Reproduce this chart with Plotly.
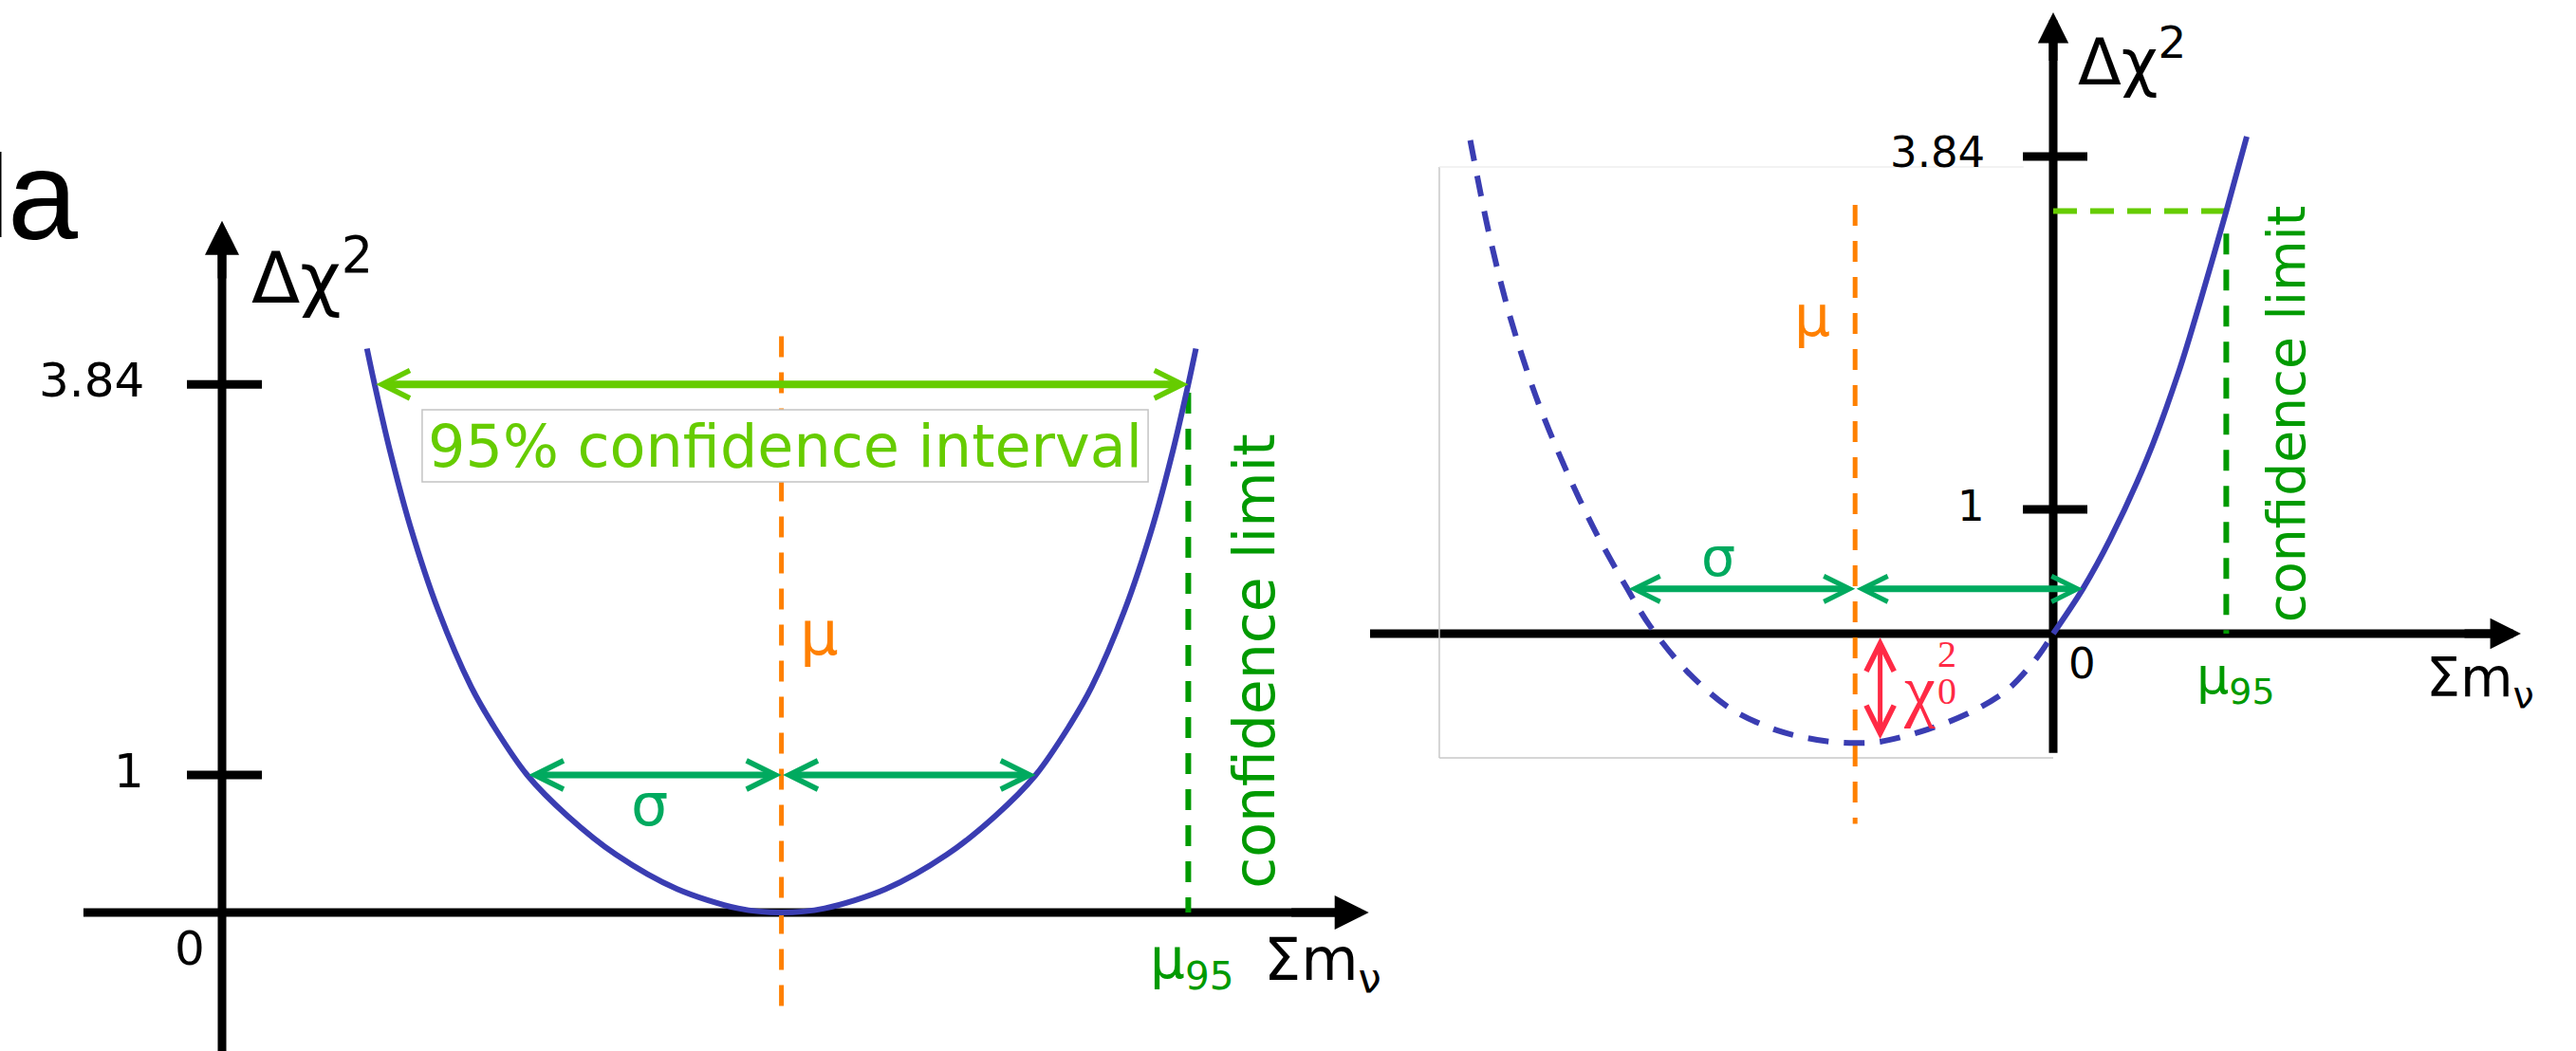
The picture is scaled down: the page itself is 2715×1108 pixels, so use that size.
import plotly.graph_objects as go

W, H = 2715, 1108

# ---------------------------------------------------------------- data
# Panel a: Δχ² profile with a positive best-fit Σmν
a_sum_mnu = [0.57, 0.60, 0.66, 0.74, 0.85, 0.98, 1.07, 1.20, 1.36, 1.55, 1.79, 2.03, 2.20,
             2.37, 2.61, 2.85, 3.04, 3.20, 3.33, 3.42, 3.55, 3.66, 3.74, 3.80, 3.83]
a_dchi2 = [4.10, 3.84, 3.36, 2.81, 2.20, 1.64, 1.35, 1.00, 0.70, 0.42, 0.17, 0.03, 0.00,
           0.03, 0.17, 0.42, 0.70, 1.00, 1.35, 1.64, 2.20, 2.81, 3.36, 3.84, 4.10]
a_mu = 2.20
a_sigma = 1.00
a_ci95 = [0.60, 3.80]
a_mu95 = 3.80
a_dchi2_95 = 3.84
a_tick_vals = [1, 3.84]
a_tick_text = ["1", "3.84"]

# Panel b: best fit at negative Σmν; only the Σmν ≥ 0 branch is physical
b_unphys_x = [-2.56, -2.48, -2.39, -2.27, -2.14, -2.01, -1.87, -1.77, -1.61, -1.42,
              -1.21, -1.00, -0.87, -0.76, -0.55, -0.36, -0.20, -0.07, 0.00]
b_unphys_y = [3.97, 3.24, 2.58, 1.90, 1.32, 0.82, 0.36, 0.06, -0.30, -0.60,
              -0.78, -0.865, -0.88, -0.87, -0.77, -0.63, -0.45, -0.19, 0.00]
b_phys_x = [0.00, 0.13, 0.25, 0.41, 0.55, 0.65, 0.76, 0.85]
b_phys_y = [0.00, 0.36, 0.76, 1.40, 2.10, 2.70, 3.40, 4.00]
b_mu = -0.87
b_sigma = 1.00
b_sigma_level = 0.36
b_chi0_x = -0.76
b_chi0_depth = 0.85
b_mu95 = 0.76
b_limit_level = 3.40
b_tick_vals = [1, 3.84]
b_tick_text = ["1", "3.84"]

# ---------------------------------------------------------------- styles
BLUE = "#3a3db2"
ORANGE = "#ff8000"
LIME = "#66cc00"
TEAL = "#00aa5f"
DGREEN = "#009a00"
RED = "#ff2a45"
BLACK = "#000000"
HAND = "DejaVu Sans"
SERIF = "Liberation Serif"
DASH = "22px,16px"

# pixel placement of each panel's origin and its pixels per data unit
PANEL = {
    "a": dict(x0=234, sx=268, y0=962, sy=145, xref="x", yref="y"),
    "b": dict(x0=2164, sx=240, y0=668, sy=131, xref="x2", yref="y2"),
}


def axis_ranges(p):
    c = PANEL[p]
    xr = [(0 - c["x0"]) / c["sx"], (W - c["x0"]) / c["sx"]]
    yr = [(c["y0"] - H) / c["sy"], c["y0"] / c["sy"]]
    return xr, yr


def refs(p):
    return PANEL[p]["xref"], PANEL[p]["yref"]


def label(p, x, y, s, size, color, xanchor="center", yanchor="middle",
          angle=0, yshift=0, family=HAND):
    xr, yr = refs(p)
    return dict(x=x, y=y, xref=xr, yref=yr, text=s, showarrow=False,
                font=dict(family=family, size=size, color=color),
                xanchor=xanchor, yanchor=yanchor, textangle=angle, yshift=yshift)


def arrow(p, x0, y0, x1, y1, color, width, head, size, both=False):
    xr, yr = refs(p)
    return dict(x=x1, y=y1, ax=x0, ay=y0, xref=xr, yref=yr, axref=xr, ayref=yr,
                text="", showarrow=True, arrowhead=head, startarrowhead=head,
                arrowsize=size, startarrowsize=size, arrowwidth=width,
                arrowcolor=color, arrowside="end+start" if both else "end",
                standoff=0, startstandoff=0)


def seg(p, x0, y0, x1, y1, color, width, layer="below", dash=None):
    xr, yr = refs(p)
    line = dict(color=color, width=width)
    if dash:
        line["dash"] = dash
    return dict(type="line", xref=xr, yref=yr, x0=x0, y0=y0, x1=x1, y1=y1,
                line=line, layer=layer)


def dashed(p, xs, ys, color, width):
    xr, yr = refs(p)
    return go.Scatter(x=xs, y=ys, mode="lines", xaxis=xr, yaxis=yr, hoverinfo="skip",
                      line=dict(color=color, width=width, dash=DASH), showlegend=False)


fig = go.Figure()

# ---------------------------------------------------------------- panel a
fig.add_trace(dashed("a", [a_mu, a_mu], [4.19, -0.78], ORANGE, 5))
fig.add_trace(dashed("a", [a_mu95, a_mu95], [3.78, 0], DGREEN, 6))
fig.add_trace(go.Scatter(x=a_sum_mnu, y=a_dchi2, mode="lines", xaxis="x", yaxis="y",
                         line=dict(color=BLUE, width=6, shape="spline", smoothing=0.9),
                         hoverinfo="skip", showlegend=False))

# ---------------------------------------------------------------- panel b
fig.add_trace(dashed("b", [b_mu, b_mu], [3.45, -1.53], ORANGE, 5))
fig.add_trace(dashed("b", [b_mu95, b_mu95], [3.22, 0], DGREEN, 6))
fig.add_trace(go.Scatter(x=[0, b_mu95], y=[b_limit_level, b_limit_level], mode="lines",
                         xaxis="x2", yaxis="y2", hoverinfo="skip", showlegend=False,
                         line=dict(color=LIME, width=6, dash="25px,14px")))
fig.add_trace(go.Scatter(x=b_unphys_x, y=b_unphys_y, mode="lines", xaxis="x2", yaxis="y2",
                         line=dict(color=BLUE, width=6, dash=DASH, shape="spline", smoothing=0.9),
                         hoverinfo="skip", showlegend=False))
fig.add_trace(go.Scatter(x=b_phys_x, y=b_phys_y, mode="lines", xaxis="x2", yaxis="y2",
                         line=dict(color=BLUE, width=6, shape="spline", smoothing=0.9),
                         hoverinfo="skip", showlegend=False))

shapes = []
ann = []

# axes drawn as thick strokes with arrow tips
shapes += [
    seg("a", 0, -1.05, 0, 4.9, BLACK, 9),
    seg("a", -0.545, 0, 4.4, 0, BLACK, 9),
    seg("b", 0, -0.96, 0, 4.9, BLACK, 9),
    seg("b", -3.0, 0, 1.95, 0, BLACK, 9),
]
ann += [
    arrow("a", 0, 4.6, 0, 5.03, BLACK, 9, 2, 0.8),
    arrow("a", 4.2, 0, 4.51, 0, BLACK, 9, 2, 0.8),
    arrow("b", 0, 4.6, 0, 5.0, BLACK, 9, 2, 0.72),
    arrow("b", 1.8, 0, 2.054, 0, BLACK, 9, 2, 0.72),
]

# tick marks and tick labels
for v, t in zip(a_tick_vals, a_tick_text):
    shapes.append(seg("a", -0.138, v, 0.157, v, BLACK, 9, layer="above"))
    ann.append(label("a", -0.30, v, t, 50, BLACK, xanchor="right", yshift=4))
for v, t in zip(b_tick_vals, b_tick_text):
    shapes.append(seg("b", -0.133, v, 0.15, v, BLACK, 9, layer="above"))
    ann.append(label("b", -0.29, v, t, 45, BLACK, xanchor="right", yshift=4))
ann.append(label("a", -0.127, -0.262, "0", 50, BLACK))
ann.append(label("b", 0.125, -0.244, "0", 45, BLACK))

# axis titles
ann.append(label("a", 0.11, 4.65, "Δχ<sup>2</sup>", 75, BLACK, xanchor="left"))
ann.append(label("b", 0.10, 4.63, "Δχ<sup>2</sup>", 67, BLACK, xanchor="left"))
ann.append(label("a", 4.09, -0.372, "Σm<sub>ν</sub>", 62, BLACK, xanchor="left"))
ann.append(label("b", 1.63, -0.38, "Σm<sub>ν</sub>", 57, BLACK, xanchor="left"))

# panel a annotations
shapes.append(dict(type="rect", xref="x", yref="y", x0=0.787, x1=3.642, y0=3.131, y1=3.655,
                   line=dict(color="#c4c4c4", width=1.5), fillcolor="white", layer="above"))
ann.append(label("a", 2.213, 3.39, "95% confidence interval", 62, LIME))
ann.append(arrow("a", a_ci95[0], a_dchi2_95, a_ci95[1], a_dchi2_95, LIME, 8, 5, 0.72, both=True))
ann.append(arrow("a", a_mu - a_sigma, 1, a_mu, 1, TEAL, 7, 5, 0.85, both=True))
ann.append(arrow("a", a_mu, 1, a_mu + a_sigma, 1, TEAL, 7, 5, 0.85, both=True))
ann.append(label("a", 1.68, 0.78, "σ", 62, TEAL))
ann.append(label("a", 2.35, 2.03, "μ", 64, ORANGE))
ann.append(label("a", 4.06, 1.83, "confidence limit", 60, DGREEN, angle=-90))
ann.append(label("a", 3.64, -0.366, "μ<sub>95</sub>", 58, DGREEN, xanchor="left"))

# panel b annotations
light = "#c8c8c8"
shapes += [
    seg("b", -2.696, -1.0, 0, -1.0, light, 1.5),
    seg("b", -2.696, -1.0, -2.696, 3.756, light, 1.5),
    seg("b", -2.696, 3.756, -0.13, 3.756, "#eeeeee", 1.5),
]
ann.append(arrow("b", b_mu - b_sigma, b_sigma_level, b_mu, b_sigma_level, TEAL, 7, 5, 0.76, both=True))
ann.append(arrow("b", b_mu, b_sigma_level, b_mu + b_sigma, b_sigma_level, TEAL, 7, 5, 0.76, both=True))
ann.append(label("b", -1.47, 0.62, "σ", 57, TEAL))
ann.append(label("b", -1.06, 2.56, "μ", 60, ORANGE))
ann.append(arrow("b", b_chi0_x, -0.02, b_chi0_x, -b_chi0_depth, RED, 5, 5, 1.15, both=True))
ann.append(label("b", -0.665, -0.45, "χ", 74, RED, xanchor="left", family=SERIF))
ann.append(label("b", -0.468, -0.165, "2", 40, RED, family=SERIF))
ann.append(label("b", -0.468, -0.46, "0", 40, RED, family=SERIF))
ann.append(label("b", 1.025, 1.77, "confidence limit", 55, DGREEN, angle=-90))
ann.append(label("b", 0.62, -0.366, "μ<sub>95</sub>", 54, DGREEN, xanchor="left"))

# panel letter
ann.append(dict(x=6 / W, y=1 - 206 / H, xref="paper", yref="paper", text="a", showarrow=False,
                xanchor="left", yanchor="middle",
                font=dict(family="Liberation Sans", size=133, color=BLACK)))
shapes.append(dict(type="line", xref="paper", yref="paper", x0=0, x1=0,
                   y0=1 - 160 / H, y1=1 - 250 / H, line=dict(color=BLACK, width=3)))

xa, ya = axis_ranges("a")
xb, yb = axis_ranges("b")
hidden = dict(visible=False, showgrid=False, zeroline=False, fixedrange=True)

fig.update_layout(
    width=W, height=H,
    margin=dict(l=0, r=0, t=0, b=0),
    paper_bgcolor="white", plot_bgcolor="rgba(0,0,0,0)",
    showlegend=False,
    xaxis=dict(domain=[0, 1], range=xa, **hidden),
    yaxis=dict(domain=[0, 1], range=ya, **hidden),
    xaxis2=dict(domain=[0, 1], range=xb, anchor="y2", **hidden),
    yaxis2=dict(domain=[0, 1], range=yb, anchor="x2", **hidden),
    shapes=shapes,
    annotations=ann,
)

fig.write_html("out.html")
